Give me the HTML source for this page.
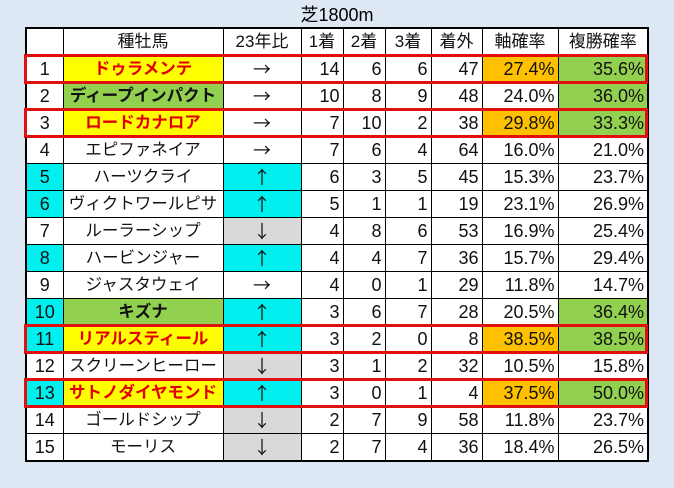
<!DOCTYPE html>
<html><head><meta charset="utf-8"><style>
body{margin:0;width:674px;height:488px;background:#dde8f4;position:relative;overflow:hidden;font-family:"Liberation Sans","Noto Sans CJK JP",sans-serif;}
.t{position:absolute;left:0;width:674px;top:1px;text-align:center;font-size:18px;color:#000;}
table{position:absolute;left:25px;top:27px;border-collapse:collapse;background:#fff;table-layout:fixed;border:2px solid #000;}
td{border:1px solid #000;height:26px;padding:0 3px;font-size:18px;line-height:26px;text-align:right;white-space:nowrap;overflow:hidden;color:#111;}
tr:first-child td{text-align:center;height:25px;font-size:17px;}
td.c{text-align:center}
td.a{text-align:center;font-family:"Noto Sans CJK JP",sans-serif;font-size:18px;line-height:26px}
td.n{text-align:center;font-size:16.5px}
.cy{background:#00f0f0}.gr{background:#d9d9d9}.ye{background:#ffff00;color:#e00000;font-weight:bold}
.gn{background:#92d050}.gb{background:#92d050;font-weight:bold}.or{background:#ffc000}
.r{position:absolute;left:24px;width:618px;height:24px;border:3px solid #e01010;}
</style></head><body>
<div class="t">芝1800m</div>
<table>
<colgroup><col style="width:37px"><col style="width:160px"><col style="width:78px"><col style="width:42px"><col style="width:42px"><col style="width:46px"><col style="width:51px"><col style="width:76px"><col style="width:90px"></colgroup>
<tr><td></td><td>種牡馬</td><td>23年比</td><td>1着</td><td>2着</td><td>3着</td><td>着外</td><td>軸確率</td><td>複勝確率</td></tr>
<tr><td class="c">1</td><td class="n ye">ドゥラメンテ</td><td class="a">→</td><td>14</td><td>6</td><td>6</td><td>47</td><td class="or">27.4%</td><td class="gn">35.6%</td></tr>
<tr><td class="c">2</td><td class="n gb">ディープインパクト</td><td class="a">→</td><td>10</td><td>8</td><td>9</td><td>48</td><td>24.0%</td><td class="gn">36.0%</td></tr>
<tr><td class="c">3</td><td class="n ye">ロードカナロア</td><td class="a">→</td><td>7</td><td>10</td><td>2</td><td>38</td><td class="or">29.8%</td><td class="gn">33.3%</td></tr>
<tr><td class="c">4</td><td class="n">エピファネイア</td><td class="a">→</td><td>7</td><td>6</td><td>4</td><td>64</td><td>16.0%</td><td>21.0%</td></tr>
<tr><td class="c cy">5</td><td class="n">ハーツクライ</td><td class="a cy">↑</td><td>6</td><td>3</td><td>5</td><td>45</td><td>15.3%</td><td>23.7%</td></tr>
<tr><td class="c cy">6</td><td class="n">ヴィクトワールピサ</td><td class="a cy">↑</td><td>5</td><td>1</td><td>1</td><td>19</td><td>23.1%</td><td>26.9%</td></tr>
<tr><td class="c">7</td><td class="n">ルーラーシップ</td><td class="a gr">↓</td><td>4</td><td>8</td><td>6</td><td>53</td><td>16.9%</td><td>25.4%</td></tr>
<tr><td class="c cy">8</td><td class="n">ハービンジャー</td><td class="a cy">↑</td><td>4</td><td>4</td><td>7</td><td>36</td><td>15.7%</td><td>29.4%</td></tr>
<tr><td class="c">9</td><td class="n">ジャスタウェイ</td><td class="a">→</td><td>4</td><td>0</td><td>1</td><td>29</td><td>11.8%</td><td>14.7%</td></tr>
<tr><td class="c cy">10</td><td class="n gb">キズナ</td><td class="a cy">↑</td><td>3</td><td>6</td><td>7</td><td>28</td><td>20.5%</td><td class="gn">36.4%</td></tr>
<tr><td class="c cy">11</td><td class="n ye">リアルスティール</td><td class="a cy">↑</td><td>3</td><td>2</td><td>0</td><td>8</td><td class="or">38.5%</td><td class="gn">38.5%</td></tr>
<tr><td class="c">12</td><td class="n">スクリーンヒーロー</td><td class="a gr">↓</td><td>3</td><td>1</td><td>2</td><td>32</td><td>10.5%</td><td>15.8%</td></tr>
<tr><td class="c cy">13</td><td class="n ye">サトノダイヤモンド</td><td class="a cy">↑</td><td>3</td><td>0</td><td>1</td><td>4</td><td class="or">37.5%</td><td class="gn">50.0%</td></tr>
<tr><td class="c">14</td><td class="n">ゴールドシップ</td><td class="a gr">↓</td><td>2</td><td>7</td><td>9</td><td>58</td><td>11.8%</td><td>23.7%</td></tr>
<tr><td class="c">15</td><td class="n">モーリス</td><td class="a gr">↓</td><td>2</td><td>7</td><td>4</td><td>36</td><td>18.4%</td><td>26.5%</td></tr>
</table>
<div class="r" style="top:54px"></div>
<div class="r" style="top:108px"></div>
<div class="r" style="top:324px"></div>
<div class="r" style="top:378px"></div>
</body></html>
